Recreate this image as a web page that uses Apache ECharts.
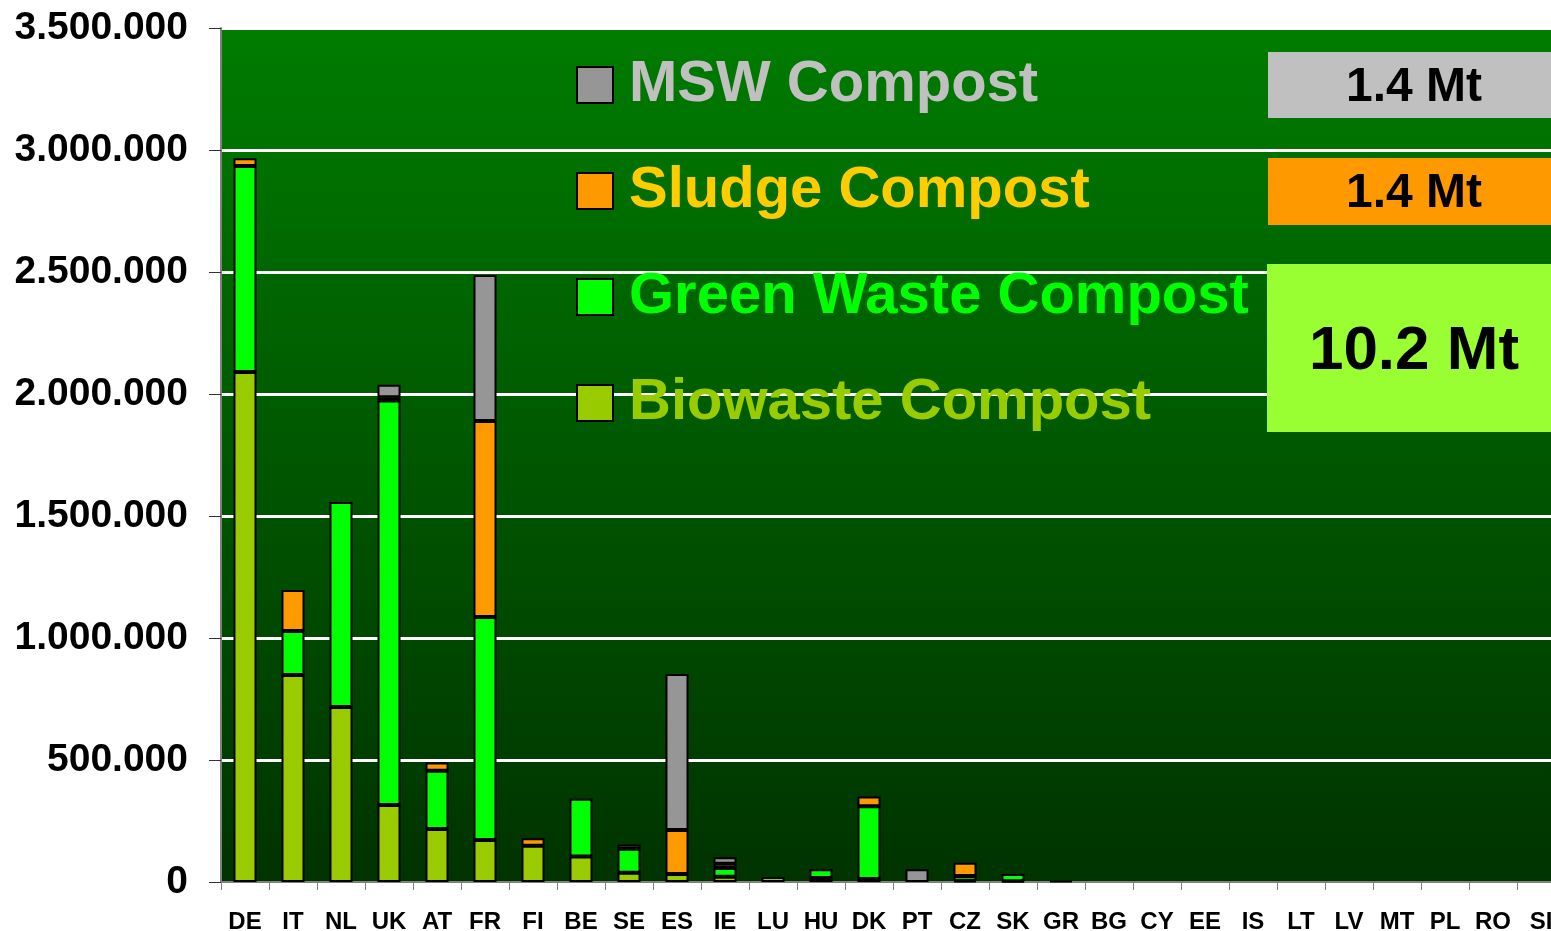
<!DOCTYPE html>
<html>
<head>
<meta charset="utf-8">
<script src="https://cdn.jsdelivr.net/npm/echarts@6/dist/echarts.min.js"></script>
<style>
  html, body { margin: 0; padding: 0; background: #fff; }
  #chart { width: 1551px; height: 931px; }
</style>
</head>
<body>
<div id="chart"></div>
<script>
  // 国家分类
  const categories = ['DE', 'IT', 'NL', 'UK', 'AT', 'FR', 'FI', 'BE', 'SE', 'ES', 'IE', 'LU', 'HU', 'DK',
    'PT', 'CZ', 'SK', 'GR', 'BG', 'CY', 'EE', 'IS', 'LT', 'LV', 'MT', 'PL', 'RO', 'SI'];

  // 各类堆肥量 (t)
  const biowaste = [2090000, 848000, 717000, 316000, 217000, 172000, 149000, 104000, 38000, 33000, 22000, 20000, 16000, 12000,
    null, 5000, 3000, 4000, null, null, null, null, null, null, null, null, null, null];
  const greenWaste = [844000, 181000, 840000, 1657000, 239000, 914000, null, 237000, 98000, null, 35000, null, 36000, 298000,
    null, 20000, 30000, null, null, null, null, null, null, null, null, null, null, null];
  const sludge = [32000, 168000, null, 14000, 34000, 803000, 30000, null, null, 180000, 18000, null, null, 40000,
    null, 54000, null, null, null, null, null, null, null, null, null, null, null, null];
  const msw = [null, null, null, 51000, null, 599000, null, null, 18000, 639000, 26000, null, null, null,
    52000, null, null, null, null, null, null, null, null, null, null, null, null, null];

  // 右侧汇总标签
  const totals = ['1.4 Mt', '1.4 Mt', '10.2 Mt'];

  const FONT = '"Liberation Sans", Arial, sans-serif';

  const chart = echarts.init(document.getElementById('chart'));

  /** 千位点分隔 */
  const fmt = v => String(v).replace(/\B(?=(\d{3})+(?!\d))/g, '.');

  const barSeries = (name, data, color) => ({
    name,
    type: 'bar',
    stack: 'total',
    data,
    barWidth: '48%',
    itemStyle: { color, borderColor: '#000', borderWidth: 2 },
  });

  const option = {
    animation: false,
    backgroundColor: '#fff',
    grid: {
      left: 221,
      top: 28,
      width: 1344,
      height: 854,
      outerBoundsMode: 'none',
      containLabel: false,
      show: true,
      borderColor: '#b0b0b0',
      borderWidth: 1,
      backgroundColor: new echarts.graphic.LinearGradient(0, 0, 0, 1, [
        { offset: 0, color: '#007c00' },
        { offset: 1, color: '#003300' },
      ]),
    },
    legend: {
      orient: 'vertical',
      left: 571,
      top: 51,
      icon: 'rect',
      itemWidth: 36,
      itemHeight: 36,
      itemGap: 48,
      selectedMode: false,
      textStyle: { fontFamily: FONT, fontWeight: 'bold', fontSize: 58, padding: [0, 0, 0, 11] },
      data: [
        { name: 'MSW Compost', textStyle: { color: '#c0c0c0' } },
        { name: 'Sludge Compost', textStyle: { color: '#ffcc00' } },
        { name: 'Green Waste Compost', textStyle: { color: '#00ff00' } },
        { name: 'Biowaste Compost', textStyle: { color: '#99cc00' } },
      ],
    },
    xAxis: {
      type: 'category',
      data: categories,
      axisLine: { show: true, lineStyle: { color: '#808080', width: 2 } },
      axisTick: { show: true, length: 8, lineStyle: { color: '#808080' } },
      axisLabel: { color: '#000', fontFamily: FONT, fontWeight: 'bold', fontSize: 24, margin: 28 },
    },
    yAxis: {
      type: 'value',
      min: 0,
      max: 3500000,
      interval: 500000,
      axisLine: { show: true, lineStyle: { color: '#808080', width: 2 } },
      axisTick: { show: true, length: 12, lineStyle: { color: '#333' } },
      axisLabel: { color: '#000', fontFamily: FONT, fontWeight: 'bold', fontSize: 39, margin: 33, formatter: fmt },
      splitLine: { show: true, lineStyle: { color: '#fff', width: 3 } },
    },
    series: [
      barSeries('Biowaste Compost', biowaste, '#99cc00'),
      barSeries('Green Waste Compost', greenWaste, '#00ff00'),
      barSeries('Sludge Compost', sludge, '#ff9900'),
      barSeries('MSW Compost', msw, '#969696'),
    ],
    graphic: [
      { type: 'rect', z: 100, shape: { x: 1268, y: 52, width: 300, height: 66 }, style: { fill: '#c0c0c0' } },
      { type: 'rect', z: 100, shape: { x: 1268, y: 158, width: 300, height: 67 }, style: { fill: '#ff9900' } },
      { type: 'rect', z: 100, shape: { x: 1267, y: 264, width: 300, height: 168 }, style: { fill: '#99ff33' } },
      { type: 'text', z: 101, x: 1414, y: 88, style: { text: totals[0], fill: '#000', font: `bold 48px ${FONT}`, align: 'center', verticalAlign: 'middle' } },
      { type: 'text', z: 101, x: 1414, y: 194, style: { text: totals[1], fill: '#000', font: `bold 48px ${FONT}`, align: 'center', verticalAlign: 'middle' } },
      { type: 'text', z: 101, x: 1414, y: 352, style: { text: totals[2], fill: '#000', font: `bold 62px ${FONT}`, align: 'center', verticalAlign: 'middle' } },
    ],
  };

  chart.setOption(option);
</script>
</body>
</html>
